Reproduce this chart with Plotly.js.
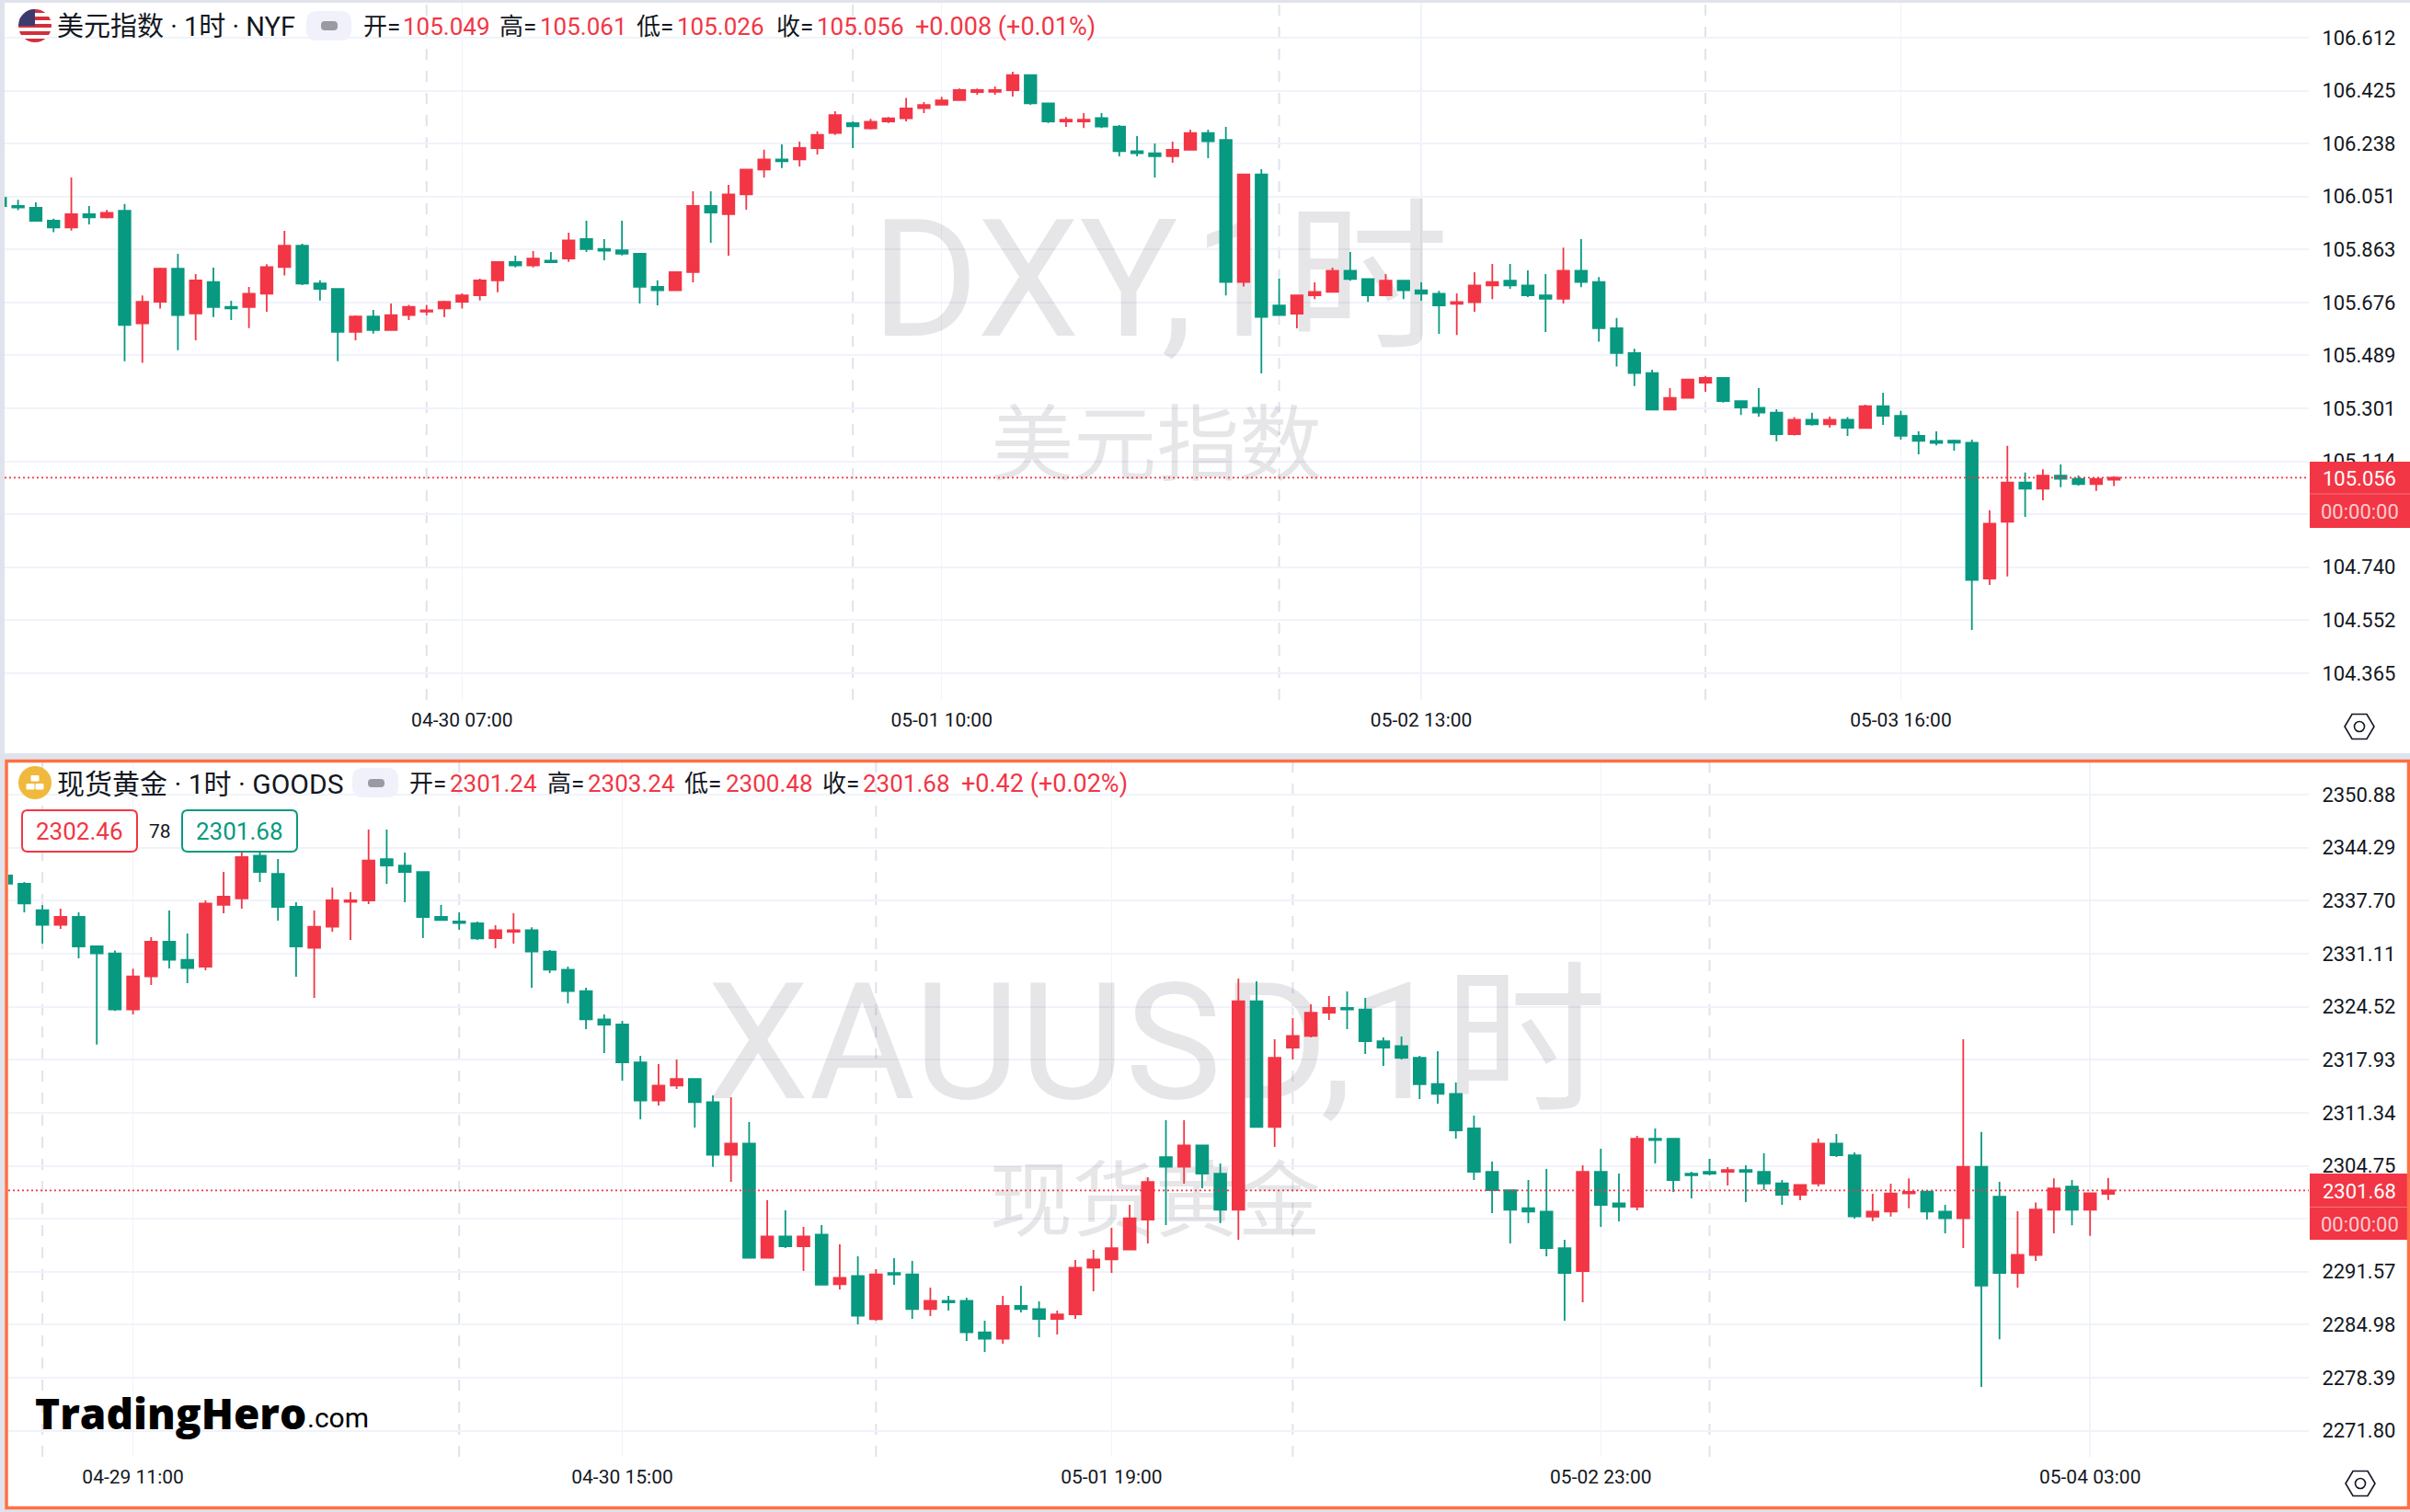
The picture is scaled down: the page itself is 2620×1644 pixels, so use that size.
<!DOCTYPE html>
<html><head><meta charset="utf-8">
<script src="https://cdn.plot.ly/plotly-3.0.1.min.js"></script>
<style>html,body{margin:0;padding:0;background:#e0e3eb}#c{width:2620px;height:1644px}</style>
</head><body><div id="c"></div>
<script>
const dxyOpen=[106.046,106.017,106.011,105.965,105.941,105.988,105.977,106.000,105.602,105.678,105.795,105.637,105.748,105.660,105.660,105.707,105.801,105.877,105.743,105.724,105.572,105.626,105.578,105.631,105.643,105.655,105.678,105.701,105.754,105.819,105.807,105.824,105.831,105.900,105.865,105.860,105.848,105.731,105.719,105.783,106.017,105.988,106.058,106.146,106.182,106.182,106.222,106.275,106.310,106.292,106.316,106.327,106.363,106.375,106.392,106.420,106.421,106.427,106.480,106.380,106.316,106.316,106.328,106.298,106.211,106.204,106.193,106.216,106.275,106.251,105.748,106.129,105.665,105.636,105.701,105.713,105.788,105.759,105.701,105.753,105.719,105.707,105.671,105.677,105.736,105.753,105.736,105.701,105.689,105.788,105.748,105.585,105.497,105.426,105.297,105.338,105.392,105.409,105.327,105.303,105.286,105.210,105.261,105.245,105.261,105.232,105.309,105.275,105.204,105.186,105.187,105.180,104.699,104.900,105.039,105.017,105.063,105.052,105.033,105.049];
const dxyHigh=[106.050,106.039,106.030,105.972,106.118,106.017,106.003,106.024,105.701,105.799,105.848,105.776,105.799,105.682,105.731,105.811,105.929,105.884,105.754,105.724,105.630,105.649,105.672,105.667,105.667,105.682,105.708,105.760,105.819,105.841,105.858,105.854,105.923,105.965,105.900,105.965,105.848,105.754,105.783,106.069,106.069,106.092,106.146,106.216,106.235,106.245,106.281,106.352,106.316,106.325,106.332,106.399,106.385,106.403,106.433,106.433,106.440,106.492,106.480,106.380,106.332,106.346,106.346,106.303,106.264,106.238,106.245,106.287,106.287,106.297,106.129,106.147,105.760,105.701,105.747,105.799,105.854,105.759,105.776,105.753,105.747,105.717,105.708,105.783,105.812,105.812,105.789,105.776,105.870,105.900,105.766,105.621,105.512,105.438,105.373,105.403,105.416,105.409,105.329,105.373,105.298,105.270,105.286,105.272,105.270,105.314,105.357,105.292,105.220,105.220,105.191,105.191,104.941,105.169,105.074,105.086,105.103,105.064,105.052,105.061];
const dxyLow=[106.012,106.002,105.964,105.924,105.930,105.952,105.973,105.468,105.462,105.654,105.507,105.542,105.624,105.614,105.585,105.643,105.771,105.737,105.683,105.468,105.542,105.566,105.578,105.614,105.631,105.624,105.654,105.683,105.712,105.800,105.800,105.818,105.819,105.854,105.825,105.842,105.672,105.666,105.719,105.747,105.887,105.841,106.004,106.118,106.151,106.157,106.199,106.268,106.222,106.288,106.311,106.316,106.346,106.375,106.391,106.411,106.411,106.404,106.375,106.311,106.297,106.293,106.293,106.193,106.193,106.118,106.170,106.216,106.186,105.701,105.732,105.425,105.631,105.584,105.688,105.713,105.753,105.678,105.701,105.688,105.682,105.565,105.561,105.643,105.688,105.724,105.695,105.571,105.672,105.730,105.537,105.449,105.380,105.297,105.297,105.338,105.360,105.322,105.278,105.272,105.185,105.205,105.240,105.233,105.204,105.232,105.243,105.191,105.139,105.170,105.152,104.517,104.677,104.707,104.917,104.976,105.022,105.028,105.009,105.026];
const dxyClose=[106.017,106.012,105.965,105.941,105.988,105.977,105.993,105.596,105.678,105.795,105.631,105.754,105.660,105.655,105.707,105.801,105.877,105.743,105.724,105.572,105.626,105.578,105.631,105.660,105.648,105.678,105.701,105.754,105.819,105.807,105.831,105.818,105.895,105.865,105.859,105.848,105.731,105.719,105.783,106.017,105.994,106.058,106.146,106.182,106.175,106.222,106.269,106.339,106.299,106.315,106.327,106.362,106.374,106.391,106.427,106.427,106.427,106.480,106.380,106.316,106.322,106.322,106.298,106.211,106.204,106.193,106.216,106.275,106.246,105.748,106.129,105.625,105.631,105.701,105.713,105.788,105.759,105.701,105.753,105.719,105.707,105.665,105.677,105.736,105.748,105.736,105.701,105.689,105.788,105.748,105.585,105.497,105.426,105.297,105.338,105.403,105.409,105.327,105.304,105.286,105.210,105.261,105.245,105.261,105.233,105.309,105.275,105.204,105.186,105.179,105.180,104.694,104.893,105.039,105.017,105.063,105.052,105.033,105.052,105.056];

const goldOpen=[2340.83,2339.80,2336.52,2334.69,2335.68,2332.02,2331.14,2324.17,2328.29,2332.59,2330.34,2329.50,2337.17,2337.97,2343.30,2341.05,2336.94,2331.83,2334.46,2337.55,2337.74,2342.88,2342.08,2341.28,2335.68,2335.11,2334.88,2333.05,2333.85,2334.04,2331.37,2329.12,2326.46,2322.95,2322.30,2317.61,2312.85,2314.72,2315.55,2312.65,2306.10,2307.51,2293.29,2295.96,2294.74,2296.19,2290.01,2291.04,2285.67,2291.42,2291.23,2286.92,2287.95,2287.95,2284.03,2283.23,2287.31,2286.92,2285.70,2286.28,2292.07,2293.10,2294.32,2298.05,2305.83,2304.61,2307.28,2303.77,2299.28,2325.19,2309.57,2319.44,2320.89,2323.78,2324.36,2324.17,2320.24,2319.63,2318.18,2314.90,2313.68,2309.38,2304.00,2301.71,2299.47,2299.05,2294.51,2291.65,2304.00,2300.08,2299.66,2308.12,2308.12,2303.77,2304.00,2304.00,2304.23,2304.00,2302.55,2301.14,2302.55,2307.51,2306.06,2298.42,2299.05,2301.30,2301.53,2299.05,2298.23,2304.61,2300.90,2291.41,2293.66,2299.29,2302.16,2299.29,2301.24];
const goldHigh=[2340.90,2340.03,2337.17,2336.71,2336.25,2332.02,2331.52,2329.24,2333.16,2336.48,2333.62,2337.74,2341.28,2343.87,2343.72,2342.88,2337.51,2336.48,2339.34,2338.77,2346.54,2346.54,2343.68,2341.28,2337.17,2336.25,2335.11,2334.65,2336.14,2334.38,2331.56,2329.50,2326.87,2323.56,2322.76,2318.41,2317.38,2317.96,2315.55,2313.49,2313.26,2310.18,2300.46,2299.20,2297.14,2297.37,2294.97,2293.48,2291.88,2293.25,2292.91,2289.59,2288.56,2288.33,2285.48,2288.56,2289.82,2287.88,2286.73,2293.02,2294.28,2297.03,2299.88,2303.31,2310.41,2310.41,2307.28,2305.03,2328.02,2327.67,2320.47,2323.10,2324.81,2325.84,2326.41,2325.61,2320.70,2320.81,2318.41,2318.98,2315.09,2310.98,2305.26,2301.71,2302.97,2304.34,2295.54,2304.80,2306.86,2303.77,2308.46,2309.38,2308.12,2304.00,2305.60,2304.57,2304.80,2306.29,2302.97,2302.36,2308.12,2308.69,2306.40,2301.26,2302.52,2303.19,2301.73,2299.88,2320.47,2308.94,2302.75,2299.09,2300.19,2303.19,2302.99,2301.34,2303.24];
const goldLow=[2339.50,2336.25,2332.36,2334.19,2330.53,2319.82,2323.98,2323.56,2327.22,2329.28,2327.45,2329.05,2336.14,2336.71,2340.03,2335.22,2328.25,2325.62,2333.85,2332.82,2337.28,2339.80,2337.51,2333.05,2335.30,2334.08,2332.82,2331.79,2332.36,2326.87,2328.70,2324.93,2321.73,2318.76,2315.32,2310.52,2312.24,2314.30,2309.49,2304.61,2302.74,2293.29,2293.29,2294.51,2291.65,2289.97,2289.36,2285.02,2285.48,2289.94,2285.70,2286.05,2286.73,2282.96,2281.59,2282.62,2286.50,2283.42,2283.76,2285.70,2289.13,2291.42,2294.28,2295.08,2297.37,2302.52,2301.94,2297.60,2295.54,2309.57,2307.09,2317.95,2320.70,2322.87,2321.73,2318.64,2317.15,2317.95,2313.04,2312.46,2308.12,2302.97,2298.86,2295.08,2297.60,2293.48,2285.48,2287.76,2297.14,2297.83,2299.20,2305.03,2301.49,2300.69,2303.54,2302.29,2300.23,2301.71,2299.89,2300.46,2302.17,2305.83,2298.17,2297.87,2298.42,2299.45,2298.07,2296.34,2294.52,2277.24,2283.18,2289.60,2292.91,2296.34,2297.36,2296.02,2300.48];
const goldClose=[2339.80,2337.36,2334.69,2335.68,2332.02,2331.14,2324.17,2328.29,2332.59,2330.34,2329.31,2337.36,2338.20,2343.11,2341.28,2336.94,2332.02,2334.46,2337.74,2337.74,2342.69,2342.08,2341.28,2335.68,2335.30,2334.92,2333.01,2334.04,2334.04,2331.37,2329.12,2326.46,2322.95,2322.30,2317.61,2312.85,2314.72,2315.55,2312.66,2306.10,2307.51,2293.29,2295.96,2294.74,2295.96,2289.97,2290.81,2286.09,2291.23,2291.23,2286.92,2287.95,2287.76,2284.03,2283.23,2287.31,2286.92,2285.70,2286.28,2292.07,2293.10,2294.51,2298.21,2302.74,2304.61,2307.28,2303.77,2299.28,2325.19,2309.57,2318.18,2320.89,2323.78,2324.36,2324.17,2320.24,2319.44,2318.18,2314.90,2313.68,2309.15,2304.00,2301.71,2299.28,2299.05,2294.51,2291.42,2304.00,2299.89,2299.66,2308.12,2307.93,2302.97,2303.58,2303.77,2304.23,2304.00,2302.55,2301.14,2302.36,2307.51,2306.06,2298.44,2299.05,2301.30,2301.49,2299.05,2298.23,2304.61,2289.84,2291.41,2293.66,2299.29,2301.93,2299.29,2301.34,2301.68];

const dxyTicks=[106.612,106.425,106.238,106.051,105.863,105.676,105.489,105.301,105.114,104.927,104.740,104.552,104.365];
const goldTicks=[2350.88,2344.29,2337.70,2331.11,2324.52,2317.93,2311.34,2304.75,2298.16,2291.57,2284.98,2278.39,2271.80];
const dxyTimeIdx=[26,53,80,107];
const dxyTimeLabels=['04-30 07:00','05-01 10:00','05-02 13:00','05-03 16:00'];
const goldTimeIdx=[7,34,61,88,115];
const goldTimeLabels=['04-29 11:00','04-30 15:00','05-01 19:00','05-02 23:00','05-04 03:00'];
const dxyDayIdx=[24,48,72,96];
const goldDayIdx=[2,25,48,71,94];
const dxyLast=105.056, goldLast=2301.68;

const W=2620,H=1644,RED='#F23645',GREEN='#089981',GRID='#F0F3FA',AX='#E0E3EB',INK='#131722';
const FONT='Roboto, "Noto Sans CJK SC", sans-serif';
const px=x=>x/W, py=y=>1-y/H;
const T=(text,x,y,size,color,anchor,extra)=>Object.assign({xref:'paper',yref:'paper',x:px(x),y:py(y),text,showarrow:false,xanchor:anchor||'left',yanchor:'middle',font:{family:FONT,size,color:color||INK}},extra||{});
const rect=(x0,y0,x1,y1,fill,layer)=>({type:'rect',xref:'paper',yref:'paper',x0:px(x0),x1:px(x1),y0:py(y0),y1:py(y1),fillcolor:fill,line:{width:0},layer:layer||'below'});
const rr=(x0,y0,x1,y1,r,fill,stroke,lw)=>{
  const X=v=>px(v).toFixed(6),Y=v=>py(v).toFixed(6);
  return {type:'path',xref:'paper',yref:'paper',layer:'above',fillcolor:fill,line:{color:stroke||fill,width:lw||0},
  path:`M${X(x0+r)},${Y(y0)} L${X(x1-r)},${Y(y0)} Q${X(x1)},${Y(y0)} ${X(x1)},${Y(y0+r)} L${X(x1)},${Y(y1-r)} Q${X(x1)},${Y(y1)} ${X(x1-r)},${Y(y1)} L${X(x0+r)},${Y(y1)} Q${X(x0)},${Y(y1)} ${X(x0)},${Y(y1-r)} L${X(x0)},${Y(y0+r)} Q${X(x0)},${Y(y0)} ${X(x0+r)},${Y(y0)} Z`};
};
const hexIcon=(cx,cy)=>{
  const X=v=>px(cx+v).toFixed(6),Y=v=>py(cy+v).toFixed(6);
  return [{type:'path',xref:'paper',yref:'paper',layer:'above',line:{color:INK,width:1.6},
    path:`M${X(-16)},${Y(0)} L${X(-8)},${Y(-13.5)} L${X(8)},${Y(-13.5)} L${X(16)},${Y(0)} L${X(8)},${Y(13.5)} L${X(-8)},${Y(13.5)} Z`},
  {type:'circle',xref:'paper',yref:'paper',layer:'above',line:{color:INK,width:1.6},x0:px(cx-5.5),x1:px(cx+5.5),y0:py(cy+5.5),y1:py(cy-5.5)}];
};
const flag='data:image/svg+xml;utf8,'+encodeURIComponent('<svg xmlns="http://www.w3.org/2000/svg" viewBox="0 0 36 36"><defs><clipPath id="a"><circle cx="18" cy="18" r="18"/></clipPath></defs><g clip-path="url(#a)"><rect width="36" height="36" fill="#fff"/><g fill="#D22F3C"><rect y="0" width="36" height="4"/><rect y="8" width="36" height="4"/><rect y="16" width="36" height="4"/><rect y="24" width="36" height="4"/><rect y="32" width="36" height="4"/></g><rect width="18" height="18" fill="#3C3B6E"/></g></svg>');
const coin='data:image/svg+xml;utf8,'+encodeURIComponent('<svg xmlns="http://www.w3.org/2000/svg" viewBox="0 0 36 36"><circle cx="18" cy="18" r="18" fill="#F0B93C"/><rect x="13.5" y="10" width="9" height="6.5" rx="1" fill="#fff"/><rect x="8.5" y="19" width="9" height="6.5" rx="1" fill="#fff"/><rect x="18.5" y="19" width="9" height="6.5" rx="1" fill="#fff"/></svg>');

const idx=a=>a.map((_,i)=>i);
const candle=(xa,ya,o,h,l,c)=>({type:'candlestick',xaxis:xa,yaxis:ya,x:idx(o),open:o,high:h,low:l,close:c,whiskerwidth:0,zorder:1,hoverinfo:'skip',
  increasing:{line:{color:RED,width:1.8},fillcolor:RED},decreasing:{line:{color:GREEN,width:1.8},fillcolor:GREEN},showlegend:false});
const wm=(xa,ya,x,y,t,s)=>({type:'scatter',mode:'text',xaxis:xa,yaxis:ya,x:[x],y:[y],text:[t],textposition:'middle center',zorder:0,hoverinfo:'skip',showlegend:false,cliponaxis:false,
  textfont:{family:FONT,size:s,color:'rgba(19,23,34,0.105)'}});

const data=[
  wm('x','y',65.3,105.702,'DXY,1时',178),wm('x','y',65.1,105.145,'美元指数',90),
  wm('x2','y2',63.5,2318.19,'XAUUSD,1时',177),wm('x2','y2',63.4,2299.32,'现货黄金',90),
  candle('x','y',dxyOpen,dxyHigh,dxyLow,dxyClose),
  candle('x2','y2',goldOpen,goldHigh,goldLow,goldClose)
];
const xAxis=(dom,range,vals,text,anchor)=>({domain:dom,range,tickmode:'array',tickvals:vals,ticktext:text,anchor,showgrid:true,gridcolor:GRID,gridwidth:1.5,zeroline:false,showline:true,linecolor:AX,linewidth:2,ticks:'',
  tickfont:{family:FONT,size:21,color:INK},ticklabelstandoff:2,rangeslider:{visible:false},fixedrange:true,tickangle:0});
const yAxis=(dom,range,vals,dec,anchor)=>({domain:dom,range,tickmode:'array',tickvals:vals,ticktext:vals.map(v=>v.toFixed(dec)),anchor,side:'right',showgrid:true,gridcolor:GRID,gridwidth:2,zeroline:false,showline:true,linecolor:AX,linewidth:2,ticks:'',
  tickfont:{family:FONT,size:22,color:INK},ticklabelstandoff:8,fixedrange:true});
const layout={width:W,height:H,margin:{l:0,r:0,t:0,b:0,pad:0},paper_bgcolor:AX,plot_bgcolor:'rgba(0,0,0,0)',boxgap:0.35,boxgroupgap:0,showlegend:false,hovermode:false,font:{family:FONT},
  xaxis:xAxis([px(5),px(2510)],[0.2434,129.97],dxyTimeIdx,dxyTimeLabels,'y'),
  yaxis:yAxis([py(761),py(3)],[104.270,106.736],dxyTicks,3,'x'),
  xaxis2:xAxis([px(9),px(2510)],[0.1168,127.07],goldTimeIdx,goldTimeLabels,'y2'),
  yaxis2:yAxis([py(1584),py(829)],[2268.56,2354.89],goldTicks,2,'x2'),
  images:[
    {source:flag,xref:'paper',yref:'paper',x:px(20),y:py(10),sizex:36/W,sizey:36/H,xanchor:'left',yanchor:'top',layer:'above',sizing:'stretch'},
    {source:coin,xref:'paper',yref:'paper',x:px(20),y:py(833),sizex:36/W,sizey:36/H,xanchor:'left',yanchor:'top',layer:'above',sizing:'stretch'}
  ],
  shapes:[
    rect(5,3,2620,819,'#FFFFFF'),
    rect(5,826,2620,1641,'#FFFFFF'),
    ...dxyDayIdx.map(v=>({type:'line',xref:'x',yref:'y domain',x0:v,x1:v,y0:0,y1:1,line:{color:AX,width:2,dash:'12px 12px'},layer:'below'})),
    ...goldDayIdx.map(v=>({type:'line',xref:'x2',yref:'y2 domain',x0:v,x1:v,y0:0,y1:1,line:{color:AX,width:2,dash:'12px 12px'},layer:'below'})),
    {type:'line',xref:'x domain',yref:'y',x0:0,x1:1,y0:dxyLast,y1:dxyLast,line:{color:RED,width:1.8,dash:'2px 3px'},layer:'above'},
    {type:'line',xref:'x2 domain',yref:'y2',x0:0,x1:1,y0:goldLast,y1:goldLast,line:{color:RED,width:1.8,dash:'2px 3px'},layer:'above'},
    rect(2511,502,2620,574,RED,'above'),
    rect(2511,536.5,2620,537.5,'rgba(255,255,255,0.3)','above'),
    rect(2511,1276,2617,1348,RED,'above'),
    rect(2511,1312,2617,1313,'rgba(255,255,255,0.3)','above'),
    rr(333,12,382,44,12,'#F0F1FA'),
    rr(349,23,367,33,4,'#999BA3'),
    rr(383,835,433,867,12,'#F0F1FA'),
    rr(400,847,418,856,4,'#999BA3'),
    rr(24,881,149,926,6,'#FFFFFF',RED,2),
    rr(198,881,323,926,6,'#FFFFFF',GREEN,2),
    ...hexIcon(2565,790),...hexIcon(2566,1613),
    {type:'rect',xref:'paper',yref:'paper',x0:px(7),x1:px(2618.5),y0:py(827.5),y1:py(1639.5),line:{color:'#FF7043',width:3.5},layer:'above'}
  ],
  annotations:[
    T('美元指数 · 1时 · NYF',60,29,29),
    T('开=',393,29,26),T('105.049',436,29,26,RED),
    T('高=',541,29,26),T('105.061',585,29,26,RED),
    T('低=',690,29,26),T('105.026',734,29,26,RED),
    T('收=',842,29,26),T('105.056',886,29,26,RED),
    T('+0.008 (+0.01%)',993,29,27,RED),
    T('现货黄金 · 1时 · GOODS',60,852,30),
    T('开=',443,852,26),T('2301.24',487,852,26,RED),
    T('高=',593,852,26),T('2303.24',637,852,26,RED),
    T('低=',742,852,26),T('2300.48',787,852,26,RED),
    T('收=',892,852,26),T('2301.68',936,852,26,RED),
    T('+0.42 (+0.02%)',1043,852,27,RED),
    T('2302.46',86.5,904,26,RED,'center'),
    T('78',174,904,21,INK,'center'),
    T('2301.68',260.5,904,26,GREEN,'center'),
    T('105.056',2565,520,22,'#FFFFFF','center'),
    T('00:00:00',2565,557,22,'rgba(255,255,255,0.75)','center'),
    T('2301.68',2565,1295,22,'#FFFFFF','center'),
    T('00:00:00',2565,1331,22,'rgba(255,255,255,0.75)','center'),
    T('TradingHero',36,1536,46,'#000000','left',{font:{family:'"Open Sans", Roboto, sans-serif',size:46,color:'#000',weight:800}}),
    T('.com',332,1541,30,'#000000')
  ]
};
Plotly.newPlot('c',data,layout,{displayModeBar:false,staticPlot:true});
</script></body></html>
